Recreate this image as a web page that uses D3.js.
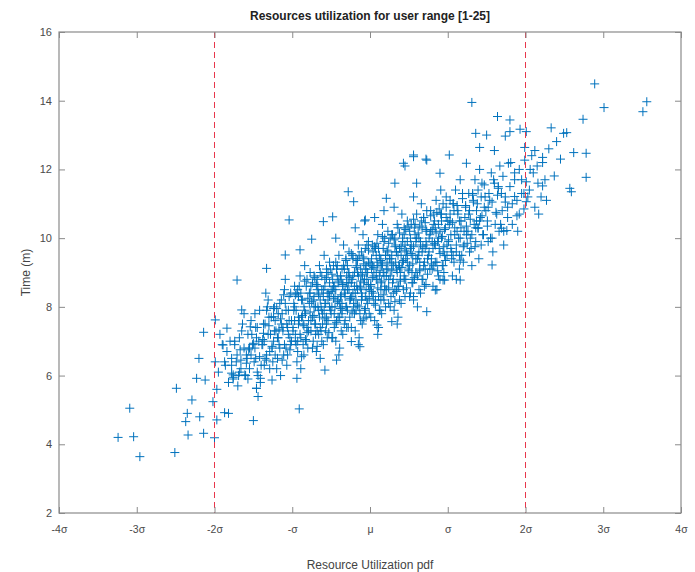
<!DOCTYPE html>
<html>
<head>
<meta charset="utf-8">
<script src="https://cdn.jsdelivr.net/npm/d3@7"></script>
<style>
  body { margin: 0; background: #fff; }
  svg { font-family: "Liberation Sans", Arial, sans-serif; }
  .axis text { fill: #4a4a4a; font-size: 11px; }
  .axis path, .axis line { stroke: #8a8a8a; }
</style>
</head>
<body>
<div id="chart"></div>
<script>
// tick labels on the x axis (sigma units)
const xTicks = [-4, -3, -2, -1, 0, 1, 2, 3, 4];
const xTickLabels = ["-4σ", "-3σ", "-2σ", "-σ", "μ", "σ", "2σ", "3σ", "4σ"];
const yTicks = [2, 4, 6, 8, 10, 12, 14, 16];
const limitLines = [-2, 2];

// sparse points at the low end
const lowTail = [
  [-3.09,5.05],[-3.24,4.2],[-3.04,4.22],[-2.96,3.64],[-2.51,3.76],[-2.49,5.63],
  [-2.34,4.27],[-2.14,4.32],[-2.0,4.19],[-2.37,4.66],[-2.35,4.9],[-2.29,5.29],
  [-2.19,4.8],[-2.2,6.5],[-2.23,5.92],[-2.12,5.87],[-2.14,7.26],[-1.99,7.62],
  [-1.99,6.4],[-2.02,5.24],[-1.97,4.71],[-1.84,7.38],[-1.87,6.4],[-1.82,4.9],
  [-1.87,4.92],[-1.5,4.69],[-1.44,5.39],[-1.46,5.63],[-1.67,6.75],[-1.76,6.02],
  [-1.61,6.02],[-1.41,5.92],[-1.26,5.87],[-1.65,7.91],[-1.54,7.42],[-1.37,7.23],
  [-1.5,6.94],[-1.33,6.45],[-1.59,6.36],[-1.24,7.71],[-1.89,6.89],[-0.91,5.03]
];

// sparse points at the high end
const highTail = [
  [2.89,14.49],[3.56,13.97],[3.51,13.68],[3.01,13.8],[2.74,13.46],[1.31,13.95],
  [1.64,13.54],[1.8,13.44],[1.36,13.05],[1.5,13.0],[1.74,12.97],[1.8,13.1],
  [1.93,13.17],[2.01,13.1],[2.33,13.21],[2.49,13.05],[2.53,13.07],[2.4,12.81],
  [1.41,12.64],[1.6,12.55],[1.99,12.64],[2.12,12.55],[2.22,12.35],[2.62,12.49],
  [2.78,12.47],[1.99,12.27],[1.78,12.18],[1.24,12.18],[1.02,12.42],[0.56,12.37],
  [0.72,12.3],[0.45,12.1],[2.37,11.81],[2.78,11.77],[2.22,11.52],[2.57,11.45],
  [2.59,11.35],[2.17,10.7],[2.01,11.64],[2.01,11.06],[1.86,11.21],[1.39,10.29],
  [1.76,10.22],[1.69,10.29],[1.57,9.22],[1.16,9.36],[1.16,8.78],[0.94,8.78],
  [2.05,11.4],[2.1,11.9],[2.15,12.1],[2.25,11.7],[2.3,12.6],[2.08,12.4],
  [2.45,12.3],[2.2,11.2]
];

// points along the upper and lower edge of the cloud
const edges = [
  [-1.04,10.53],[-1.71,8.78],[-1.33,9.12],[-1.09,9.51],[-0.9,9.66],[-0.75,9.97],
  [-0.6,10.48],[-0.48,10.62],[-0.28,11.35],[-0.21,11.06],[-0.06,10.53],[0.43,12.18],
  [0.56,12.42],[0.73,12.27],[0.32,11.6],[0.6,11.6],[0.21,11.16],[0.9,11.89],
  [-0.13,6.84],[-0.24,6.99],[0.28,7.57],[0.09,7.47],[0.73,7.86],[0.56,8.3],
  [0.84,8.49],[0.96,8.78],[-0.94,5.92],[-0.58,6.16],[-0.43,6.45],[-1.46,5.63],
  [-1.78,6.07]
];

// main body of the cloud (estimated)
const core = [
  [-1.95,6.1],[-1.90,6.9],[-1.82,5.8],[-1.78,6.5],[-1.93,7.2],[-1.86,6.3],[-1.80,7.0],[-1.97,5.6],[-1.84,6.7],[-1.76,5.9],
  [-1.72,6.4],[-1.68,7.1],[-1.60,6.0],[-1.55,6.8],[-1.70,5.7],[-1.64,7.5],[-1.58,6.5],[-1.52,7.2],[-1.66,6.2],[-1.74,6.9],[-1.57,5.9],[-1.62,7.8],[-1.53,6.6],[-1.69,6.0],
  [-1.48,6.8],[-1.45,7.4],[-1.40,6.3],[-1.36,7.0],[-1.30,7.7],[-1.44,6.0],[-1.33,6.6],[-1.28,7.2],[-1.42,7.9],[-1.38,6.9],[-1.31,8.2],[-1.47,6.5],[-1.26,6.8],[-1.35,7.5],[-1.41,5.8],[-1.29,6.2],[-1.46,7.1],[-1.34,8.4],
  [-1.24,7.0],[-1.22,7.6],[-1.19,6.5],[-1.16,8.1],[-1.12,7.3],[-1.08,6.8],[-1.05,7.9],[-1.20,6.2],[-1.14,7.5],[-1.10,8.5],[-1.03,7.1],[-1.23,8.0],[-1.17,6.9],[-1.07,6.3],[-1.13,7.8],[-1.01,7.6],[-1.21,7.3],[-1.09,8.8],[-1.15,6.0],[-1.04,8.3],[-1.18,7.1],[-1.11,6.6],[-1.06,7.4],[-1.02,6.9],
  [-0.99,7.4],[-0.97,8.0],[-0.95,6.9],[-0.93,8.5],[-0.91,7.6],[-0.89,7.1],[-0.87,8.2],[-0.85,6.6],[-0.83,7.8],[-0.81,8.8],[-0.79,7.3],[-0.77,8.4],[-0.98,7.9],[-0.94,6.4],[-0.90,8.9],[-0.86,7.5],[-0.82,7.0],[-0.78,8.1],[-0.96,7.2],[-0.92,8.3],[-0.88,7.7],[-0.84,9.2],[-0.80,6.8],[-0.76,7.6],[-0.97,8.6],[-0.93,7.0],[-0.89,6.2],[-0.85,8.0],[-0.81,7.4],[-0.77,9.0],
  [-0.74,7.7],[-0.72,8.3],[-0.70,7.2],[-0.68,8.8],[-0.66,7.9],[-0.64,7.4],[-0.62,8.5],[-0.60,6.9],[-0.58,8.1],[-0.56,9.1],[-0.54,7.6],[-0.52,8.7],[-0.73,8.2],[-0.69,6.7],[-0.65,9.2],[-0.61,7.8],[-0.57,7.3],[-0.53,8.4],[-0.71,7.5],[-0.67,8.6],[-0.63,8.0],[-0.59,9.5],[-0.55,7.1],[-0.51,7.9],[-0.72,8.9],[-0.68,7.3],[-0.64,6.5],[-0.60,8.3],[-0.56,7.7],[-0.52,9.3],[-0.70,8.0],[-0.66,8.4],[-0.62,7.0],[-0.58,8.8],[-0.54,8.2],[-0.74,6.8],
  [-0.49,8.0],[-0.47,8.6],[-0.45,7.5],[-0.43,9.1],[-0.41,8.2],[-0.39,7.7],[-0.37,8.8],[-0.35,7.2],[-0.33,8.4],[-0.31,9.4],[-0.29,7.9],[-0.27,9.0],[-0.48,8.5],[-0.44,7.0],[-0.40,9.5],[-0.36,8.1],[-0.32,7.6],[-0.28,8.7],[-0.46,7.8],[-0.42,8.9],[-0.38,8.3],[-0.34,9.8],[-0.30,7.4],[-0.26,8.2],[-0.47,9.2],[-0.43,7.6],[-0.39,6.8],[-0.35,8.6],[-0.31,8.0],[-0.27,9.6],[-0.45,8.3],[-0.41,8.7],[-0.37,7.3],[-0.33,9.1],[-0.29,8.5],[-0.49,7.1],[-0.44,10.0],[-0.36,7.9],[-0.30,8.9],[-0.40,6.6],
  [-0.24,8.3],[-0.22,8.9],[-0.20,7.8],[-0.18,9.4],[-0.16,8.5],[-0.14,8.0],[-0.12,9.1],[-0.10,7.5],[-0.08,8.7],[-0.06,9.7],[-0.04,8.2],[-0.02,9.3],[-0.23,8.8],[-0.19,7.3],[-0.15,9.8],[-0.11,8.4],[-0.07,7.9],[-0.03,9.0],[-0.21,8.1],[-0.17,9.2],[-0.13,8.6],[-0.09,10.1],[-0.05,7.7],[-0.01,8.5],[-0.22,9.5],[-0.18,7.9],[-0.14,7.1],[-0.10,8.9],[-0.06,8.3],[-0.02,9.9],[-0.20,8.6],[-0.16,9.0],[-0.12,7.6],[-0.08,9.4],[-0.04,8.8],[-0.24,7.4],[-0.19,10.3],[-0.11,8.2],[-0.05,9.2],[-0.15,6.9],[-0.07,10.5],[-0.01,7.8],
  [0.01,8.6],[0.03,9.2],[0.05,8.1],[0.07,9.7],[0.09,8.8],[0.11,8.3],[0.13,9.4],[0.15,7.8],[0.17,9.0],[0.19,10.0],[0.21,8.5],[0.23,9.6],[0.02,9.1],[0.06,7.6],[0.10,10.1],[0.14,8.7],[0.18,8.2],[0.22,9.3],[0.04,8.4],[0.08,9.5],[0.12,8.9],[0.16,10.4],[0.20,8.0],[0.24,8.8],[0.03,9.8],[0.07,8.2],[0.11,7.4],[0.15,9.2],[0.19,8.6],[0.23,10.2],[0.05,8.9],[0.09,9.3],[0.13,7.9],[0.17,9.7],[0.21,9.1],[0.01,7.7],[0.06,10.6],[0.14,8.5],[0.20,9.5],[0.10,7.2],[0.18,10.8],[0.24,8.1],
  [0.26,8.9],[0.28,9.5],[0.30,8.4],[0.32,10.0],[0.34,9.1],[0.36,8.6],[0.38,9.7],[0.40,8.1],[0.42,9.3],[0.44,10.3],[0.46,8.8],[0.48,9.9],[0.27,9.4],[0.31,7.9],[0.35,10.4],[0.39,9.0],[0.43,8.5],[0.47,9.6],[0.29,8.7],[0.33,9.8],[0.37,9.2],[0.41,10.7],[0.45,8.3],[0.49,9.1],[0.28,10.1],[0.32,8.5],[0.36,7.7],[0.40,9.5],[0.44,8.9],[0.48,10.5],[0.30,9.2],[0.34,9.6],[0.38,8.2],[0.42,10.0],[0.46,9.4],[0.26,8.0],[0.31,10.9],[0.39,8.8],[0.45,9.8],[0.35,7.5],
  [0.51,9.2],[0.53,9.8],[0.55,8.7],[0.57,10.3],[0.59,9.4],[0.61,8.9],[0.63,10.0],[0.65,8.4],[0.67,9.6],[0.69,10.6],[0.71,9.1],[0.73,10.2],[0.52,9.7],[0.56,8.2],[0.60,10.7],[0.64,9.3],[0.68,8.8],[0.72,9.9],[0.54,9.0],[0.58,10.1],[0.62,9.5],[0.66,11.0],[0.70,8.6],[0.74,9.4],[0.53,10.4],[0.57,8.8],[0.61,8.0],[0.65,9.8],[0.69,9.2],[0.73,10.8],[0.55,9.5],[0.59,9.9],[0.63,8.5],[0.67,10.3],[0.71,9.7],[0.51,8.3],[0.56,11.2],[0.64,9.1],
  [0.76,9.6],[0.78,10.2],[0.80,9.1],[0.82,10.7],[0.84,9.8],[0.86,9.3],[0.88,10.4],[0.90,8.8],[0.92,10.0],[0.94,11.0],[0.96,9.5],[0.98,10.6],[0.77,10.1],[0.81,8.6],[0.85,11.1],[0.89,9.7],[0.93,9.2],[0.97,10.3],[0.79,9.4],[0.83,10.5],[0.87,9.9],[0.91,11.4],[0.95,9.0],[0.99,9.8],[0.78,10.8],[0.82,9.2],[0.86,8.5],[0.90,10.2],[0.94,9.6],[0.98,11.2],[0.80,9.9],[0.84,10.3],[0.88,8.9],[0.92,10.7],
  [1.01,9.9],[1.03,10.5],[1.05,9.4],[1.07,11.0],[1.09,10.1],[1.11,9.6],[1.13,10.7],[1.15,9.1],[1.17,10.3],[1.19,11.3],[1.21,9.8],[1.23,10.9],[1.02,10.4],[1.06,8.9],[1.10,11.4],[1.14,10.0],[1.18,9.5],[1.22,10.6],[1.04,9.7],[1.08,10.8],[1.12,10.2],[1.16,11.7],[1.20,9.3],[1.24,10.1],[1.03,11.1],[1.07,9.5],[1.11,8.8],[1.15,10.5],
  [1.26,10.2],[1.28,10.8],[1.30,9.7],[1.32,11.3],[1.34,10.4],[1.36,9.9],[1.38,11.0],[1.40,9.4],[1.42,10.6],[1.44,11.6],[1.46,10.1],[1.48,11.2],[1.27,10.7],[1.31,9.2],[1.35,11.7],[1.39,10.3],[1.43,9.8],[1.47,10.9],[1.29,10.0],[1.33,11.1],[1.37,10.5],[1.41,12.0],
  [1.51,10.5],[1.54,11.1],[1.57,10.0],[1.60,11.6],[1.63,10.7],[1.66,10.2],[1.69,11.3],[1.72,9.8],[1.52,10.9],[1.56,11.9],[1.61,10.4],[1.65,11.5],[1.70,10.8],[1.74,11.2],[1.58,9.6],[1.67,12.1],
  [1.77,10.9],[1.80,11.5],[1.83,10.4],[1.86,11.9],[1.89,11.1],[1.92,10.7],[1.95,11.7],[1.98,11.3],[1.81,12.2],[1.90,10.2]
];

// densest strip along the middle of the cloud (estimated)
const dense = [
  [-1.78,6.3],[-1.74,7.0],[-1.71,6.6],[-1.68,6.1],[-1.65,7.3],[-1.62,6.8],[-1.76,5.95],[-1.66,6.45],
  [-1.59,6.6],[-1.57,7.2],[-1.55,6.2],[-1.53,7.6],[-1.51,6.9],[-1.49,6.4],[-1.47,7.4],[-1.45,6.1],[-1.43,7.0],[-1.56,6.75],[-1.48,7.8],[-1.42,6.55],
  [-1.39,6.9],[-1.37,7.5],[-1.35,6.5],[-1.33,7.9],[-1.31,7.2],[-1.29,6.7],[-1.27,7.7],[-1.25,6.4],[-1.23,7.3],[-1.38,7.05],[-1.32,8.0],[-1.26,6.85],[-1.36,6.3],[-1.30,7.45],[-1.24,7.95],[-1.22,6.6],
  [-1.19,7.1],[-1.18,7.8],[-1.16,6.8],[-1.14,8.2],[-1.12,7.4],[-1.10,6.9],[-1.08,7.9],[-1.06,6.6],[-1.04,7.6],[-1.02,8.4],[-1.17,7.35],[-1.13,6.45],[-1.09,8.1],[-1.05,7.2],[-1.01,7.0],[-1.15,7.65],[-1.11,8.35],[-1.07,7.5],[-1.03,6.75],[-1.20,7.95],
  [-0.99,7.3],[-0.98,8.1],[-0.96,7.0],[-0.94,8.4],[-0.92,7.7],[-0.90,7.2],[-0.88,8.2],[-0.86,6.9],[-0.84,7.9],[-0.82,8.6],[-0.97,7.6],[-0.93,6.7],[-0.89,8.4],[-0.85,7.45],[-0.81,7.25],[-0.95,7.9],[-0.91,8.6],[-0.87,7.75],[-0.83,7.05],[-0.80,8.25],[-0.96,8.35],[-0.88,6.55],[-0.84,8.75],[-0.92,7.5],
  [-0.79,7.6],[-0.78,8.4],[-0.76,7.3],[-0.74,8.7],[-0.72,8.0],[-0.70,7.5],[-0.68,8.5],[-0.66,7.2],[-0.64,8.2],[-0.62,8.9],[-0.77,7.85],[-0.73,7.0],[-0.69,8.65],[-0.65,7.7],[-0.61,7.5],[-0.75,8.15],[-0.71,8.85],[-0.67,8.0],[-0.63,7.3],[-0.60,8.5],[-0.76,8.6],[-0.68,6.85],[-0.64,9.0],[-0.72,7.75],[-0.66,8.35],[-0.62,7.9],
  [-0.59,7.9],[-0.58,8.6],[-0.56,7.5],[-0.54,9.0],[-0.52,8.3],[-0.50,7.8],[-0.48,8.8],[-0.46,7.4],[-0.44,8.5],[-0.42,9.2],[-0.57,8.1],[-0.53,7.25],[-0.49,8.95],[-0.45,8.0],[-0.41,7.7],[-0.55,8.4],[-0.51,9.1],[-0.47,8.25],[-0.43,7.55],[-0.40,8.75],[-0.56,8.85],[-0.48,7.1],[-0.44,9.3],[-0.52,8.0],[-0.46,8.6],[-0.42,8.15],[-0.58,7.65],[-0.50,8.45],
  [-0.39,8.1],[-0.38,8.9],[-0.36,7.8],[-0.34,9.2],[-0.32,8.5],[-0.30,8.0],[-0.28,9.0],[-0.26,7.7],[-0.24,8.7],[-0.22,9.4],[-0.37,8.35],[-0.33,7.5],[-0.29,9.2],[-0.25,8.25],[-0.21,8.0],[-0.35,8.65],[-0.31,9.35],[-0.27,8.5],[-0.23,7.85],[-0.20,9.0],[-0.36,9.1],[-0.28,7.4],[-0.24,9.55],[-0.32,8.3],[-0.26,8.85],[-0.22,8.4],[-0.38,7.95],[-0.30,8.7],
  [-0.19,8.4],[-0.18,9.15],[-0.16,8.05],[-0.14,9.5],[-0.12,8.75],[-0.10,8.3],[-0.08,9.25],[-0.06,7.95],[-0.04,9.0],[-0.02,9.65],[-0.17,8.6],[-0.13,7.8],[-0.09,9.45],[-0.05,8.5],[-0.01,8.25],[-0.15,8.9],[-0.11,9.6],[-0.07,8.8],[-0.03,8.1],[0.00,9.25],[-0.16,9.35],[-0.08,7.65],[-0.04,9.8],[-0.12,8.55],[-0.06,9.1],[-0.02,8.65],[-0.18,8.2],[-0.10,8.95],
  [0.01,8.65],[0.02,9.4],[0.04,8.3],[0.06,9.75],[0.08,9.0],[0.10,8.55],[0.12,9.5],[0.14,8.2],[0.16,9.25],[0.18,9.9],[0.03,8.85],[0.07,8.05],[0.11,9.7],[0.15,8.75],[0.19,8.5],[0.05,9.15],[0.09,9.85],[0.13,9.05],[0.17,8.35],[0.20,9.5],[0.04,9.6],[0.12,7.9],[0.16,10.05],[0.08,8.8],[0.14,9.35],[0.18,8.9],[0.02,8.45],[0.10,9.2],
  [0.21,8.9],[0.22,9.65],[0.24,8.55],[0.26,10.0],[0.28,9.25],[0.30,8.8],[0.32,9.75],[0.34,8.45],[0.36,9.5],[0.38,10.15],[0.23,9.1],[0.27,8.3],[0.31,9.95],[0.35,9.0],[0.39,8.75],[0.25,9.4],[0.29,10.1],[0.33,9.3],[0.37,8.6],[0.40,9.75],[0.24,9.85],[0.32,8.15],[0.36,10.3],[0.28,9.05],[0.34,9.6],[0.38,9.15],
  [0.41,9.15],[0.42,9.9],[0.44,8.8],[0.46,10.25],[0.48,9.5],[0.50,9.05],[0.52,10.0],[0.54,8.7],[0.56,9.75],[0.58,10.4],[0.43,9.35],[0.47,8.55],[0.51,10.2],[0.55,9.25],[0.59,9.0],[0.45,9.65],[0.49,10.35],[0.53,9.55],[0.57,8.85],[0.60,10.0],[0.44,10.1],[0.52,8.4],[0.56,10.55],[0.48,9.3],
  [0.61,9.4],[0.62,10.15],[0.64,9.05],[0.66,10.5],[0.68,9.75],[0.70,9.3],[0.72,10.25],[0.74,8.95],[0.76,10.0],[0.78,10.65],[0.63,9.6],[0.67,8.8],[0.71,10.45],[0.75,9.5],[0.79,9.25],[0.65,9.9],[0.69,10.6],[0.73,9.8],[0.77,9.1],[0.80,10.25],[0.64,10.35],[0.72,8.65],
  [0.81,9.7],[0.82,10.4],[0.84,9.3],[0.86,10.75],[0.88,10.0],[0.90,9.55],[0.92,10.5],[0.94,9.2],[0.96,10.25],[0.98,10.9],[0.83,9.85],[0.87,9.05],[0.91,10.7],[0.95,9.75],[0.99,9.5],[0.85,10.15],[0.89,10.85],[0.93,10.05],[0.97,9.35],[1.00,10.5],
  [1.01,9.95],[1.03,10.7],[1.05,9.6],[1.07,11.0],[1.09,10.3],[1.11,9.8],[1.13,10.8],[1.15,9.5],[1.17,10.5],[1.19,11.15],[1.04,10.1],[1.08,9.3],[1.12,10.95],[1.16,10.0],[1.20,9.75],[1.06,10.45],
  [1.21,10.2],[1.23,10.95],[1.25,9.85],[1.27,11.3],[1.29,10.55],[1.31,10.1],[1.33,11.05],[1.35,9.75],[1.37,10.8],[1.39,11.4],[1.24,10.35],[1.28,9.6],[1.32,11.25],[1.36,10.3],
  [1.41,10.5],[1.43,11.2],[1.45,10.1],[1.47,11.55],[1.49,10.8],[1.51,10.35],[1.53,11.3],[1.55,10.0],[1.57,11.05],[1.59,11.7],[1.44,10.65],[1.52,9.9],
  [1.62,10.75],[1.65,11.45],[1.68,10.4],[1.71,11.8],[1.74,11.05],[1.77,10.6],[1.64,11.25],[1.72,10.2],
  [1.83,11.0],[1.86,11.7],[1.89,10.65],[1.92,12.0],[1.95,11.3],[1.98,10.85],
  [2.03,11.2],[2.06,12.0],[2.12,10.9],[2.16,11.6],[2.22,12.2],[2.27,11.1]
];

const points = core.concat(dense, edges, lowTail, highTail);

const width = 695, height = 572;
const plot = { left: 59, right: 681, top: 32, bottom: 513 };

const svg = d3.select("#chart")
  .append("svg")
  .attr("width", width)
  .attr("height", height);

const x = d3.scaleLinear().domain([-4, 4]).range([plot.left, plot.right]);
const y = d3.scaleLinear().domain([2, 16]).range([plot.bottom, plot.top]);

// markers first, MATLAB style '+'
svg.append("g")
  .selectAll("path")
  .data(points)
  .enter()
  .append("path")
  .attr("transform", d => `translate(${x(d[0])},${y(d[1])})`)
  .attr("d", "M-4.5,0H4.5M0,-4.5V4.5")
  .attr("stroke", "#0072BD")
  .attr("stroke-width", 1)
  .attr("fill", "none");

// dashed limit lines at +/- 2 sigma
svg.append("g")
  .selectAll("line")
  .data(limitLines)
  .enter()
  .append("line")
  .attr("x1", d => x(d)).attr("x2", d => x(d))
  .attr("y1", plot.top).attr("y2", plot.bottom)
  .attr("stroke", "#e8364c")
  .attr("stroke-width", 1)
  .attr("stroke-dasharray", "6,4");

// axes, ticks pointing inward
svg.append("g")
  .attr("class", "axis")
  .attr("transform", `translate(0,${plot.bottom})`)
  .call(d3.axisBottom(x).tickValues(xTicks)
    .tickFormat((d, i) => xTickLabels[i])
    .tickSizeInner(-6).tickSizeOuter(0).tickPadding(13))
  .selectAll("text").style("font-size", "10.5px");

svg.append("g")
  .attr("class", "axis")
  .attr("transform", `translate(0,${plot.top})`)
  .call(d3.axisTop(x).tickValues(xTicks).tickFormat("")
    .tickSizeInner(-6).tickSizeOuter(0));

svg.append("g")
  .attr("class", "axis")
  .attr("transform", `translate(${plot.left},0)`)
  .call(d3.axisLeft(y).tickValues(yTicks)
    .tickSizeInner(-6).tickSizeOuter(0).tickPadding(7));

svg.append("g")
  .attr("class", "axis")
  .attr("transform", `translate(${plot.right},0)`)
  .call(d3.axisRight(y).tickValues(yTicks).tickFormat("")
    .tickSizeInner(-6).tickSizeOuter(0));

svg.selectAll(".axis .domain").remove();

svg.append("rect")
  .attr("x", plot.left).attr("y", plot.top)
  .attr("width", plot.right - plot.left)
  .attr("height", plot.bottom - plot.top)
  .attr("fill", "none")
  .attr("stroke", "#8a8a8a")
  .attr("stroke-width", 1.2);

// title and axis labels
svg.append("text")
  .attr("x", (plot.left + plot.right) / 2)
  .attr("y", 20)
  .attr("text-anchor", "middle")
  .style("font-size", "12px")
  .style("font-weight", "bold")
  .style("fill", "#222")
  .text("Resources utilization for user range [1-25]");

svg.append("text")
  .attr("x", (plot.left + plot.right) / 2)
  .attr("y", 569)
  .attr("text-anchor", "middle")
  .style("font-size", "12px")
  .style("fill", "#444")
  .text("Resource Utilization pdf");

svg.append("text")
  .attr("transform", "rotate(-90)")
  .attr("x", -(plot.top + plot.bottom) / 2)
  .attr("y", 30)
  .attr("text-anchor", "middle")
  .style("font-size", "12px")
  .style("fill", "#444")
  .text("Time (m)");
</script>
</body>
</html>
